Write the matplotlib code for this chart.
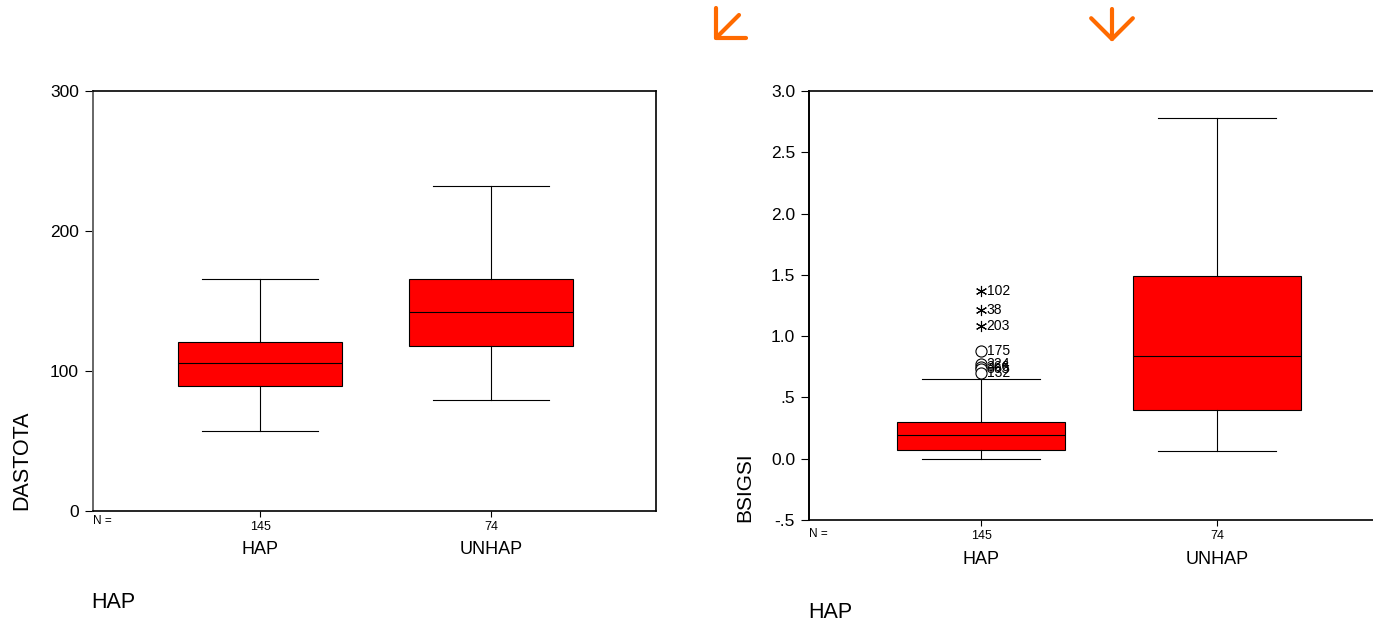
import matplotlib.pyplot as plt
from matplotlib.patches import FancyArrowPatch
from matplotlib.transforms import blended_transform_factory

groups = ['HAP', 'UNHAP']
counts = ['145', '74']

# DASTOTA five-number summaries: low whisker, Q1, median, Q3, high whisker
dastota_low = [57, 79]
dastota_q1 = [89, 118]
dastota_med = [106, 142]
dastota_q3 = [121, 166]
dastota_high = [166, 232]

# BSIGSI five-number summaries
bsigsi_low = [0.0, 0.06]
bsigsi_q1 = [0.07, 0.40]
bsigsi_med = [0.19, 0.84]
bsigsi_q3 = [0.30, 1.49]
bsigsi_high = [0.65, 2.78]

# BSIGSI outliers in HAP group (case ids)
outlier_vals = [0.88, 0.77, 0.75, 0.73, 0.70]
outlier_ids = ['175', '224', '366', '365', '132']
extreme_vals = [1.37, 1.21, 1.08]
extreme_ids = ['102', '38', '203']

RED = '#FF0000'
W, H = 1373, 623


def stats(low, q1, med, q3, high):
    out = []
    for i in range(len(low)):
        out.append({'whislo': low[i], 'q1': q1[i], 'med': med[i],
                    'q3': q3[i], 'whishi': high[i], 'fliers': []})
    return out


def draw_box(ax, st):
    ax.bxp(st, positions=[1, 2], widths=0.71, capwidths=0.5,
           patch_artist=True, showfliers=False,
           boxprops=dict(facecolor=RED, edgecolor='black', linewidth=0.8),
           medianprops=dict(color='black', linewidth=0.8),
           whiskerprops=dict(color='black', linewidth=0.8),
           capprops=dict(color='black', linewidth=0.8))


def style(ax, n_y, cat_y, left_color):
    ax.set_xticks([1, 2])
    ax.set_xticklabels(counts, fontsize=9)
    ax.tick_params(axis='x', length=4, width=0.8, pad=3)
    ax.tick_params(axis='y', length=6, width=0.8, labelsize=12.5, pad=4)
    ax.spines['left'].set_color(left_color)
    ax.spines['left'].set_linewidth(1.4)
    for s in ['top', 'right', 'bottom']:
        ax.spines[s].set_linewidth(1.2)
    tr = blended_transform_factory(ax.transAxes, ax.figure.transFigure)
    ax.text(0.0, 1 - n_y / H, 'N =', transform=tr, fontsize=8.5,
            ha='left', va='center')
    tr2 = blended_transform_factory(ax.transData, ax.figure.transFigure)
    for i, g in enumerate(groups):
        ax.text(i + 1, 1 - cat_y / H, g, transform=tr2, fontsize=13,
                ha='center', va='center')


fig = plt.figure(figsize=(W / 100, H / 100), dpi=100)
plt.rcParams['font.family'] = ['Liberation Sans', 'DejaVu Sans']

# left panel
ax1 = fig.add_axes([93 / W, 1 - 511 / H, 563 / W, 420 / H])
draw_box(ax1, stats(dastota_low, dastota_q1, dastota_med, dastota_q3, dastota_high))
ax1.set_ylim(0, 300)
ax1.set_yticks([0, 100, 200, 300])
style(ax1, 521, 550, '#666666')
ax1.set_xlim(0.277, 2.714)

# right panel, runs past the right edge
ax2 = fig.add_axes([809 / W, 1 - 520 / H, 590 / W, 429 / H])
draw_box(ax2, stats(bsigsi_low, bsigsi_q1, bsigsi_med, bsigsi_q3, bsigsi_high))
ax2.set_ylim(-0.5, 3.0)
ax2.set_yticks([-0.5, 0, 0.5, 1.0, 1.5, 2.0, 2.5, 3.0])
ax2.set_yticklabels(['-.5', '0.0', '.5', '1.0', '1.5', '2.0', '2.5', '3.0'])
style(ax2, 534, 560, 'black')
ax2.set_xlim(0.271, 2.771)
ax2.spines['right'].set_visible(False)

ax2.plot([1] * len(outlier_vals), outlier_vals, 'o', mfc='white', mec='black',
         ms=8, mew=0.8)
ax2.plot([1] * len(extreme_vals), extreme_vals, marker=(6, 2, 0), ls='none',
         color='black', ms=8, mew=0.8)
for v, lab in zip(outlier_vals + extreme_vals, outlier_ids + extreme_ids):
    ax2.annotate(lab, (1, v), xytext=(4, 0), textcoords='offset points',
                 fontsize=10, va='center', ha='left')

# axis titles and variable labels
fig.text(22 / W, 1 - 460 / H, 'DASTOTA', rotation=90, fontsize=15.5,
         ha='center', va='center')
fig.text(745 / W, 1 - 487 / H, 'BSIGSI', rotation=90, fontsize=15,
         ha='center', va='center')
fig.text(113 / W, 1 - 603 / H, 'HAP', fontsize=15.5, ha='center', va='center')
fig.text(830 / W, 1 - 613 / H, 'HAP', fontsize=15.5, ha='center', va='center')

# orange pointer arrows
ORANGE = '#FF6A00'
for tail, tip in [((739, 15), (714, 40)), ((1112, 9), (1112, 42))]:
    fig.add_artist(FancyArrowPatch(
        (tail[0] / W, 1 - tail[1] / H), (tip[0] / W, 1 - tip[1] / H),
        transform=fig.transFigure, arrowstyle='->,head_length=0.5,head_width=0.5',
        mutation_scale=30, color=ORANGE, linewidth=3, shrinkA=0, shrinkB=0))

fig.savefig('out.png', dpi=100)
